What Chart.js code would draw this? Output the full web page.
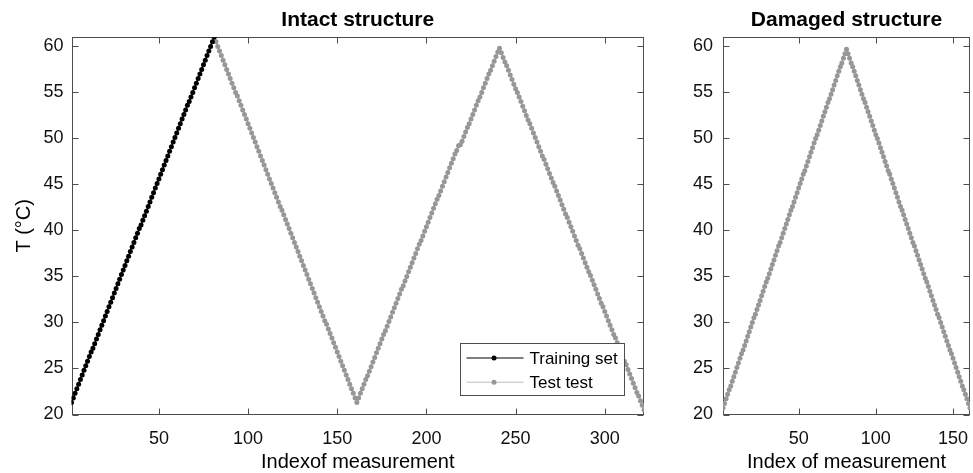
<!DOCTYPE html>
<html>
<head>
<meta charset="utf-8">
<script src="https://cdn.jsdelivr.net/npm/chart.js@4/dist/chart.umd.min.js"></script>
<style>
    html, body { margin: 0; padding: 0; background: #fff; overflow: hidden; }
    #wrap { position: relative; width: 973px; height: 473px; overflow: hidden; }
    canvas { position: absolute; top: 0; }
    #intact { left: 0; }
    #damaged { left: 660px; }
</style>
</head>
<body>
<div id="wrap">
    <canvas id="intact" width="660" height="473"></canvas>
    <canvas id="damaged" width="340" height="473"></canvas>
</div>
<script>
/* ---------- Data ---------- */

const trainStart = 1;
const trainTemp = [
    21.3, 21.8, 22.3, 22.8, 23.3, 23.8, 24.3, 24.8, 25.3, 25.8,
    26.3, 26.8, 27.2, 27.7, 28.2, 28.7, 29.2, 29.7, 30.2, 30.7,
    31.2, 31.7, 32.2, 32.7, 33.2, 33.7, 34.2, 34.7, 35.2, 35.7,
    36.2, 36.7, 37.2, 37.7, 38.2, 38.7, 39.2, 39.7, 40.2, 40.6,
    41.1, 41.6, 42.1, 42.6, 43.1, 43.6, 44.1, 44.6, 45.1, 45.6,
    46.1, 46.6, 47.1, 47.6, 48.1, 48.6, 49.1, 49.6, 50.1, 50.6,
    51.1, 51.6, 52.1, 52.6, 53.1, 53.6, 54.0, 54.5, 55.0, 55.5,
    56.0, 56.5, 57.0, 57.5, 58.0, 58.5, 59.0, 59.5, 60.0, 60.5,
    61.0,
];

const testStart = 82;
const testTemp = [
    60.5, 60.0, 59.5, 59.0, 58.5, 58.0, 57.5, 57.0, 56.5, 56.0,
    55.5, 55.0, 54.6, 54.1, 53.6, 53.1, 52.6, 52.1, 51.6, 51.1,
    50.6, 50.1, 49.6, 49.1, 48.6, 48.1, 47.6, 47.1, 46.6, 46.1,
    45.6, 45.1, 44.6, 44.1, 43.6, 43.1, 42.6, 42.2, 41.7, 41.2,
    40.7, 40.2, 39.7, 39.2, 38.7, 38.2, 37.7, 37.2, 36.7, 36.2,
    35.7, 35.2, 34.7, 34.2, 33.7, 33.2, 32.7, 32.2, 31.7, 31.2,
    30.7, 30.2, 29.8, 29.3, 28.8, 28.3, 27.8, 27.3, 26.8, 26.3,
    25.8, 25.3, 24.8, 24.3, 23.8, 23.3, 22.8, 22.3, 21.8, 21.3,
    21.8, 22.3, 22.8, 23.3, 23.8, 24.2, 24.7, 25.2, 25.7, 26.2,
    26.7, 27.2, 27.7, 28.2, 28.7, 29.1, 29.6, 30.1, 30.6, 31.1,
    31.6, 32.1, 32.6, 33.1, 33.6, 34.0, 34.5, 35.0, 35.5, 36.0,
    36.5, 37.0, 37.5, 38.0, 38.5, 38.9, 39.4, 39.9, 40.4, 40.9,
    41.4, 41.9, 42.4, 42.9, 43.4, 43.8, 44.3, 44.8, 45.3, 45.8,
    46.3, 46.8, 47.3, 47.8, 48.3, 48.7, 49.2, 49.3, 49.7, 50.2,
    50.7, 51.2, 51.6, 52.1, 52.6, 53.1, 53.6, 54.1, 54.5, 55.0,
    55.5, 56.0, 56.5, 57.0, 57.4, 57.9, 58.4, 58.9, 59.4, 59.8,
    59.3, 58.8, 58.3, 57.9, 57.4, 56.9, 56.4, 55.9, 55.4, 55.0,
    54.5, 54.0, 53.5, 53.0, 52.5, 52.0, 51.6, 51.1, 50.6, 50.1,
    49.6, 49.1, 48.6, 48.1, 47.7, 47.2, 46.7, 46.2, 45.7, 45.2,
    44.8, 44.3, 43.8, 43.3, 42.8, 42.3, 41.8, 41.4, 40.9, 40.4,
    39.9, 39.4, 38.9, 38.4, 38.0, 37.5, 37.0, 36.5, 36.0, 35.5,
    35.1, 34.6, 34.1, 33.6, 33.1, 32.6, 32.1, 31.7, 31.2, 30.7,
    30.2, 29.7, 29.2, 28.7, 28.3, 27.8, 27.3, 26.8, 26.3, 25.8,
    25.4, 24.9, 24.4, 23.9, 23.4, 22.9, 22.4, 22.0, 21.5, 21.0,
    20.5,
];

const damagedStart = 1;
const damagedTemp = [
    20.7, 21.2, 21.7, 22.2, 22.7, 23.1, 23.6, 24.1, 24.6, 25.1,
    25.6, 26.1, 26.6, 27.0, 27.5, 28.0, 28.5, 29.0, 29.5, 30.0,
    30.5, 30.9, 31.4, 31.9, 32.4, 32.9, 33.4, 33.9, 34.4, 34.8,
    35.3, 35.8, 36.3, 36.8, 37.3, 37.8, 38.3, 38.7, 39.2, 39.7,
    40.2, 40.7, 41.2, 41.7, 42.2, 42.6, 43.1, 43.6, 44.1, 44.6,
    45.1, 45.6, 46.1, 46.5, 47.0, 47.5, 48.0, 48.5, 49.0, 49.5,
    50.0, 50.4, 50.9, 51.4, 51.9, 52.4, 52.9, 53.4, 53.9, 54.3,
    54.8, 55.3, 55.8, 56.3, 56.8, 57.3, 57.8, 58.2, 58.7, 59.2,
    59.7,
    59.2, 58.7, 58.2, 57.8, 57.3, 56.8, 56.3, 55.8, 55.3, 54.8,
    54.3, 53.9, 53.4, 52.9, 52.4, 51.9, 51.4, 50.9, 50.4, 50.0,
    49.5, 49.0, 48.5, 48.0, 47.5, 47.0, 46.5, 46.1, 45.6, 45.1,
    44.6, 44.1, 43.6, 43.1, 42.6, 42.2, 41.7, 41.2, 40.7, 40.2,
    39.7, 39.2, 38.7, 38.3, 37.8, 37.3, 36.8, 36.3, 35.8, 35.3,
    34.8, 34.4, 33.9, 33.4, 32.9, 32.4, 31.9, 31.4, 30.9, 30.5,
    30.0, 29.5, 29.0, 28.5, 28.0, 27.5, 27.0, 26.6, 26.1, 25.6,
    25.1, 24.6, 24.1, 23.6, 23.1, 22.7, 22.2, 21.7, 21.2, 20.7,
];

const yTicks = [20, 25, 30, 35, 40, 45, 50, 55, 60];
const xTicksIntact = [50, 100, 150, 200, 250, 300];
const xTicksDamaged = [50, 100, 150];

/* ---------- Styling ---------- */

const FONT = "'Liberation Sans', Arial, Helvetica, sans-serif";
const AXIS_COLOR = '#4d4d4d';
const BLACK = '#000000';
const GREY_MARK = '#979797';
const GREY_LINE = '#bdbdbd';

Chart.defaults.font.family = FONT;
Chart.defaults.color = '#111';

function toPoints(start, temps) {
    return temps.map((t, i) => ({ x: start + i, y: t }));
}

/* MATLAB-style box with inward tick marks, plus an in-axes legend */
const matlabAxes = {
    id: 'matlabAxes',
    beforeDatasetsDraw(chart) {
        const { ctx, chartArea: a, scales: { x, y } } = chart;
        const L = Math.round(a.left) + 0.5, R = Math.round(a.right) - 0.5;
        const T = Math.round(a.top) + 0.5, B = Math.round(a.bottom) - 0.5;
        const len = 6;
        ctx.save();
        ctx.strokeStyle = AXIS_COLOR;
        ctx.lineWidth = 1;
        ctx.strokeRect(L, T, R - L, B - T);
        ctx.beginPath();
        x.ticks.forEach(t => {
            const px = Math.round(x.getPixelForValue(t.value)) + 0.5;
            ctx.moveTo(px, B); ctx.lineTo(px, B - len);
            ctx.moveTo(px, T); ctx.lineTo(px, T + len);
        });
        y.ticks.forEach(t => {
            const py = Math.round(y.getPixelForValue(t.value)) + 0.5;
            ctx.moveTo(L, py); ctx.lineTo(L + len, py);
            ctx.moveTo(R, py); ctx.lineTo(R - len, py);
        });
        ctx.stroke();
        ctx.restore();
    },
    afterDraw(chart, args, opts) {
        if (!opts.items || !opts.items.length) return;
        const { ctx, chartArea: a } = chart;
        const w = 164, h = 52;
        const left = Math.round(a.right - 20 - w) + 0.5;
        const top = Math.round(a.bottom - 19.5 - h) + 0.5;
        ctx.save();
        ctx.fillStyle = '#fff';
        ctx.fillRect(left, top, w, h);
        ctx.strokeStyle = AXIS_COLOR;
        ctx.lineWidth = 1;
        ctx.strokeRect(left, top, w, h);
        ctx.font = `17px ${FONT}`;
        ctx.textBaseline = 'middle';
        ctx.textAlign = 'left';
        opts.items.forEach((item, i) => {
            const cy = top + 14.5 + i * 24.2;
            ctx.strokeStyle = item.line;
            ctx.beginPath();
            ctx.moveTo(left + 6, cy);
            ctx.lineTo(left + 63, cy);
            ctx.stroke();
            ctx.fillStyle = item.mark;
            ctx.beginPath();
            ctx.arc(left + 33.5, cy, 2.5, 0, Math.PI * 2);
            ctx.fill();
            ctx.fillStyle = '#000';
            ctx.fillText(item.text, left + 69, cy + 1);
        });
        ctx.restore();
    },
};

function panel(canvasId, cfg) {
    return new Chart(document.getElementById(canvasId), {
        type: 'line',
        data: { datasets: cfg.datasets },
        options: {
            responsive: false,
            animation: false,
            devicePixelRatio: 1,
            events: [],
            layout: { autoPadding: false, padding: { left: 0, right: cfg.padRight, top: 0, bottom: 0 } },
            elements: {
                line: { borderWidth: 1.2, tension: 0 },
                point: { radius: 2.5, borderWidth: 0 },
            },
            plugins: {
                legend: { display: false },
                tooltip: { enabled: false },
                title: {
                    display: true,
                    fullSize: false,
                    text: cfg.title,
                    color: '#000',
                    font: { size: 21, weight: 'bold', lineHeight: 1.2 },
                    padding: { top: 8, bottom: 4 },
                },
                matlabAxes: { items: cfg.legend || [] },
            },
            scales: {
                x: {
                    type: 'linear',
                    min: cfg.xMin,
                    max: cfg.xMax,
                    grid: { display: false, drawTicks: false },
                    border: { display: false },
                    ticks: { font: { size: 18 }, color: '#111', padding: 14, maxRotation: 0, autoSkip: false },
                    afterBuildTicks: s => { s.ticks = cfg.xTicks.map(v => ({ value: v })); },
                    afterFit: s => { s.height = 58.5; },
                    title: {
                        display: true,
                        text: cfg.xTitle,
                        color: '#000',
                        font: { size: 20, lineHeight: 1 },
                        padding: { top: 0, bottom: 1 },
                    },
                },
                y: {
                    type: 'linear',
                    min: 20,
                    max: 61,
                    grid: { display: false, drawTicks: false },
                    border: { display: false },
                    ticks: { font: { size: 18 }, color: '#111', padding: cfg.yPad },
                    afterBuildTicks: s => { s.ticks = yTicks.map(v => ({ value: v })); },
                    afterFit: s => { s.width = cfg.yWidth; },
                    title: {
                        display: !!cfg.yTitle,
                        text: cfg.yTitle || '',
                        color: '#000',
                        font: { size: 20, lineHeight: 1.2 },
                        padding: { top: 12, bottom: 0 },
                    },
                },
            },
        },
        plugins: [matlabAxes],
    });
}

panel('intact', {
    title: 'Intact structure',
    xTitle: 'Indexof measurement',
    yTitle: 'T (°C)',
    xMin: 1, xMax: 322,
    xTicks: xTicksIntact,
    yWidth: 71.5, yPad: 8, padRight: 16,
    datasets: [
        {
            label: 'Training set',
            data: toPoints(trainStart, trainTemp),
            borderColor: BLACK,
            backgroundColor: BLACK,
            pointBackgroundColor: BLACK,
        },
        {
            label: 'Test test',
            data: toPoints(testStart, testTemp),
            borderColor: GREY_LINE,
            backgroundColor: GREY_MARK,
            pointBackgroundColor: GREY_MARK,
        },
    ],
    legend: [
        { text: 'Training set', line: BLACK, mark: BLACK },
        { text: 'Test test', line: GREY_LINE, mark: GREY_MARK },
    ],
});

panel('damaged', {
    title: 'Damaged structure',
    xTitle: 'Index of measurement',
    yTitle: '',
    xMin: 1, xMax: 161,
    xTicks: xTicksDamaged,
    yWidth: 63, yPad: 10, padRight: 30,
    datasets: [
        {
            label: 'Damaged',
            data: toPoints(damagedStart, damagedTemp),
            borderColor: GREY_LINE,
            backgroundColor: GREY_MARK,
            pointBackgroundColor: GREY_MARK,
        },
    ],
});
</script>
</body>
</html>
